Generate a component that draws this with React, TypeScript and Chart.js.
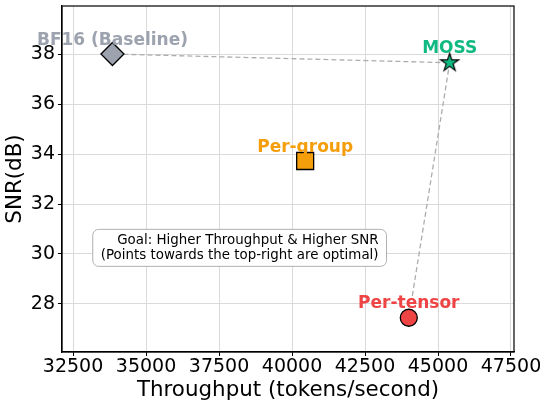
import React, { useEffect, useRef } from 'react';
import { Chart, registerables } from 'chart.js';

Chart.register(...registerables);

// ---- data ----
const methods = ['BF16 (Baseline)', 'Per-group', 'Per-tensor', 'MOSS'];
const throughput = [33850, 40450, 44000, 45400];
const snr = [38.0, 33.72, 27.45, 37.65];
const colors = ['#9CA3AF', '#F59E0B', '#EF4444', '#10B981'];
const pathOrder = [0, 3, 2]; // BF16 -> MOSS -> Per-tensor
const xTicks = [32500, 35000, 37500, 40000, 42500, 45000, 47500];
const yTicks = [28, 30, 32, 34, 36, 38];
const xRange = [32122, 47603];
const yRange = [26.08, 39.92];
const xTitle = 'Throughput (tokens/second)';
const yTitle = 'SNR(dB)';
const noteLines = ['Goal: Higher Throughput & Higher SNR', '(Points towards the top-right are optimal)'];

const FONT = "'DejaVu Sans', 'Liberation Sans', sans-serif";

function makeStar(fill: string, R: number) {
  const r = R * 0.381966;
  const size = Math.ceil(2 * R + 4);
  const c = document.createElement('canvas');
  c.width = size;
  c.height = size;
  const ctx = c.getContext('2d')!;
  const cx = size / 2;
  const cy = size / 2;
  ctx.beginPath();
  for (let k = 0; k < 10; k++) {
    const rad = k % 2 === 0 ? R : r;
    const a = -Math.PI / 2 + (k * Math.PI) / 5;
    const px = cx + rad * Math.cos(a);
    const py = cy + rad * Math.sin(a);
    if (k === 0) ctx.moveTo(px, py);
    else ctx.lineTo(px, py);
  }
  ctx.closePath();
  ctx.fillStyle = fill;
  ctx.fill();
  ctx.lineWidth = 1.2;
  ctx.strokeStyle = '#000';
  ctx.lineJoin = 'miter';
  ctx.stroke();
  return c;
}

const framePlugin = {
  id: 'frame',
  afterDatasetsDraw(chart: any) {
    const { ctx, chartArea: a } = chart;
    ctx.save();
    ctx.strokeStyle = '#000';
    ctx.lineWidth = 1.2;
    ctx.strokeRect(a.left, a.top, a.right - a.left, a.bottom - a.top);
    ctx.restore();
  },
};

const notePlugin = {
  id: 'note',
  beforeDatasetsDraw(chart: any) {
    const { ctx, chartArea: a } = chart;
    ctx.save();
    ctx.font = `13.4px ${FONT}`;
    const w = Math.max(...noteLines.map((l) => ctx.measureText(l).width));
    const padX = 8;
    const boxW = w + 2 * padX;
    const boxH = 37;
    const cx = a.left + 0.393 * (a.right - a.left);
    const cy = a.top + 0.699 * (a.bottom - a.top);
    const x0 = cx - boxW / 2;
    const y0 = cy - boxH / 2;
    ctx.beginPath();
    ctx.roundRect(x0, y0, boxW, boxH, 6);
    ctx.fillStyle = '#ffffff';
    ctx.fill();
    ctx.strokeStyle = '#b0b0b0';
    ctx.lineWidth = 1;
    ctx.stroke();
    ctx.fillStyle = '#000';
    ctx.textAlign = 'right';
    ctx.textBaseline = 'middle';
    noteLines.forEach((l, i) => {
      ctx.fillText(l, x0 + boxW - padX, cy + (i - 0.5) * 15);
    });
    ctx.restore();
  },
};

const shrink = [
  [11, 7],
  [7, 21],
];

const pathPlugin = {
  id: 'path',
  beforeDatasetsDraw(chart: any) {
    const { ctx } = chart;
    const xs = chart.scales.x;
    const ys = chart.scales.y;
    ctx.save();
    ctx.strokeStyle = '#adadad';
    ctx.lineWidth = 1.3;
    ctx.setLineDash([5, 3]);
    for (let s = 0; s < pathOrder.length - 1; s++) {
      const i = pathOrder[s];
      const j = pathOrder[s + 1];
      const x1 = xs.getPixelForValue(throughput[i]);
      const y1 = ys.getPixelForValue(snr[i]);
      const x2 = xs.getPixelForValue(throughput[j]);
      const y2 = ys.getPixelForValue(snr[j]);
      const len = Math.hypot(x2 - x1, y2 - y1);
      const ux = (x2 - x1) / len;
      const uy = (y2 - y1) / len;
      ctx.beginPath();
      ctx.moveTo(x1 + ux * shrink[s][0], y1 + uy * shrink[s][0]);
      ctx.lineTo(x2 - ux * shrink[s][1], y2 - uy * shrink[s][1]);
      ctx.stroke();
    }
    ctx.restore();
  },
};

const labelPlugin = {
  id: 'labels',
  afterDatasetsDraw(chart: any) {
    const { ctx } = chart;
    const meta = chart.getDatasetMeta(0);
    ctx.save();
    ctx.font = `bold 17px ${FONT}`;
    ctx.textAlign = 'center';
    ctx.textBaseline = 'alphabetic';
    meta.data.forEach((pt: any, i: number) => {
      ctx.fillStyle = colors[i];
      ctx.fillText(methods[i], pt.x, pt.y - 9.5);
    });
    ctx.restore();
  },
};

export default function App() {
  const ref = useRef<HTMLCanvasElement>(null);
  useEffect(() => {
    const star = makeStar(colors[3], 9.5);
    const styles: any[] = ['rectRot', 'rect', 'circle', star];
    const radii = [11.5, 12, 8.5, 9.5];
    const chart = new Chart(ref.current!, {
      type: 'scatter',
      data: {
        datasets: [
          {
            data: throughput.map((x, i) => ({ x, y: snr[i] })),
            pointStyle: styles,
            pointRadius: radii,
            backgroundColor: colors,
            borderColor: '#000',
            borderWidth: 1.3,
          } as any,
        ],
      },
      options: {
        responsive: false,
        animation: false,
        devicePixelRatio: 1,
        layout: { autoPadding: false, padding: { left: 0, top: 6, right: 34, bottom: 0 } },
        plugins: { legend: { display: false }, tooltip: { enabled: false } },
        scales: {
          x: {
            type: 'linear',
            min: xRange[0],
            max: xRange[1],
            afterBuildTicks: (s: any) => {
              s.ticks = xTicks.map((v) => ({ value: v }));
            },
            afterFit: (s: any) => {
              s.height = 57;
              s.paddingLeft = 0;
              s.paddingRight = 0;
            },
            ticks: {
              font: { family: FONT, size: 19 },
              color: '#000',
              padding: -0.5,
              maxRotation: 0,
              autoSkip: false,
              callback: (v: any) => String(v),
            },
            grid: { color: '#dadada', tickColor: '#000', tickLength: 4, lineWidth: 1 },
            border: { color: '#000', width: 1.2 },
            title: {
              display: true,
              text: xTitle,
              font: { family: FONT, size: 21.4 },
              color: '#000',
              padding: { top: 0, bottom: 5.8 },
            },
          },
          y: {
            type: 'linear',
            min: yRange[0],
            max: yRange[1],
            afterBuildTicks: (s: any) => {
              s.ticks = yTicks.map((v) => ({ value: v }));
            },
            afterFit: (s: any) => {
              s.width = 62;
              s.paddingTop = 0;
              s.paddingBottom = 0;
            },
            ticks: {
              font: { family: FONT, size: 19 },
              color: '#000',
              padding: 3,
              autoSkip: false,
              callback: (v: any) => String(v),
            },
            grid: { color: '#dadada', tickColor: '#000', tickLength: 4, lineWidth: 1 },
            border: { color: '#000', width: 1.2 },
            title: {
              display: true,
              text: yTitle,
              font: { family: FONT, size: 21.4 },
              color: '#000',
              padding: { top: 2.5, bottom: 0 },
            },
          },
        },
      } as any,
      plugins: [notePlugin, pathPlugin, labelPlugin, framePlugin],
    });
    return () => chart.destroy();
  }, []);
  return (
    <div style={{ position: 'fixed', left: 0, top: 0, width: 548, height: 409, background: '#fff' }}>
      <canvas ref={ref} width={548} height={409} style={{ width: 548, height: 409 }} />
    </div>
  );
}
